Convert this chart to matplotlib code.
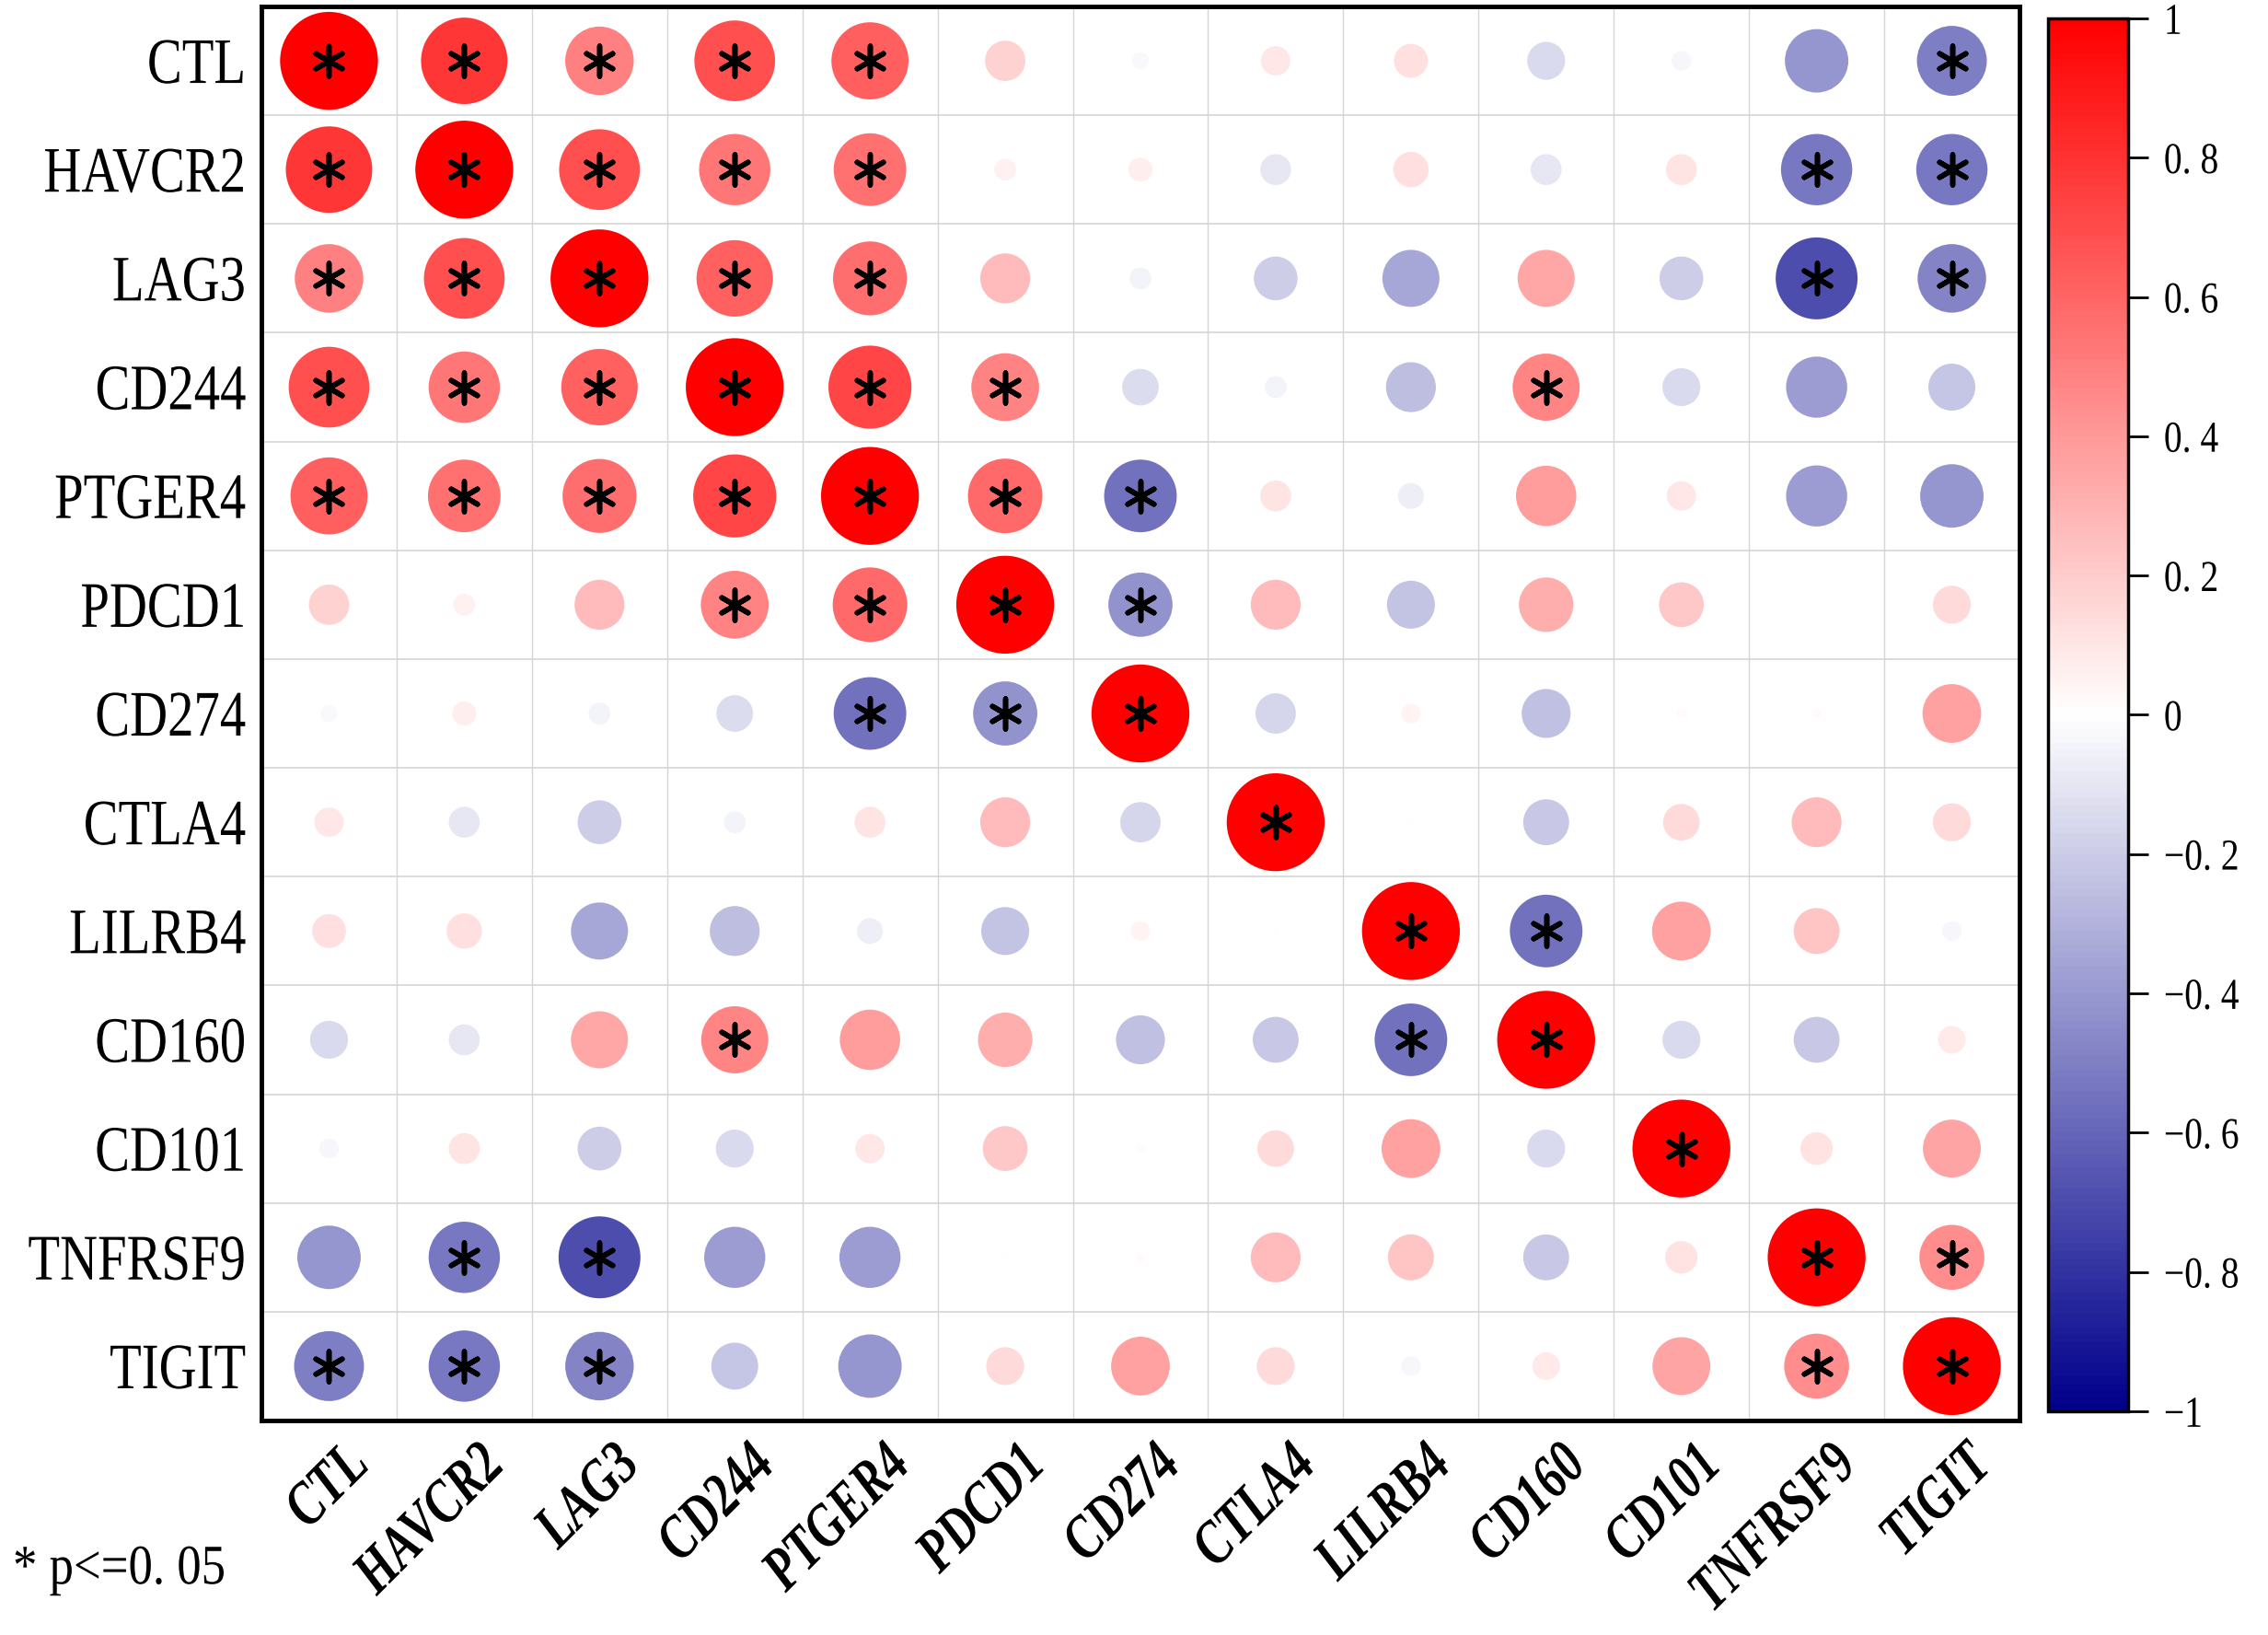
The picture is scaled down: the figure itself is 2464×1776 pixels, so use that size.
import numpy as np
import matplotlib
matplotlib.use("Agg")
import matplotlib.pyplot as plt
from matplotlib.collections import EllipseCollection
from matplotlib.colors import LinearSegmentedColormap, Normalize
from matplotlib.cm import ScalarMappable
from matplotlib.transforms import offset_copy, Affine2D
from matplotlib.patheffects import AbstractPathEffect

genes = ["CTL", "HAVCR2", "LAG3", "CD244", "PTGER4", "PDCD1", "CD274",
         "CTLA4", "LILRB4", "CD160", "CD101", "TNFRSF9", "TIGIT"]

# upper triangle of the correlation matrix, one list per row
# (values for the columns right of the diagonal)
r_ctl = [0.78, 0.49, 0.68, 0.62, 0.17, -0.03, 0.09, 0.12, -0.15, -0.04, -0.42, -0.51]
r_havcr2 = [0.68, 0.53, 0.55, 0.05, 0.06, -0.10, 0.13, -0.10, 0.10, -0.53, -0.53]
r_lag3 = [0.61, 0.57, 0.26, -0.05, -0.20, -0.34, 0.34, -0.20, -0.70, -0.49]
r_cd244 = [0.72, 0.48, -0.14, -0.05, -0.26, 0.47, -0.15, -0.39, -0.23]
r_ptger4 = [0.58, -0.55, 0.10, -0.07, 0.38, 0.09, -0.39, -0.42]
r_pdcd1 = [-0.43, 0.26, -0.24, 0.31, 0.21, 0.005, 0.15]
r_cd274 = [-0.17, 0.04, -0.25, 0.01, 0.01, 0.36]
r_ctla4 = [0.005, -0.22, 0.14, 0.26, 0.15]
r_lilrb4 = [-0.55, 0.36, 0.22, -0.04]
r_cd160 = [-0.15, -0.22, 0.08]
r_cd101 = [0.11, 0.35]
r_tnfrsf9 = [0.44]

upper_rows = [r_ctl, r_havcr2, r_lag3, r_cd244, r_ptger4, r_pdcd1, r_cd274,
              r_ctla4, r_lilrb4, r_cd160, r_cd101, r_tnfrsf9]

# pairs with p <= 0.05 (upper triangle), diagonal is always marked
sig_pairs = [(0, 1), (0, 2), (0, 3), (0, 4), (0, 12),
             (1, 2), (1, 3), (1, 4), (1, 11), (1, 12),
             (2, 3), (2, 4), (2, 11), (2, 12),
             (3, 4), (3, 5), (3, 9),
             (4, 5), (4, 6),
             (5, 6),
             (8, 9),
             (11, 12)]


class Stretch(AbstractPathEffect):
    """draw text glyphs narrower/taller (the original uses a condensed CJK font)"""

    def __init__(self, sx=1.0, sy=1.0, anchor="right"):
        super().__init__()
        self.sx, self.sy, self.anchor = sx, sy, anchor

    def draw_path(self, renderer, gc, tpath, affine, rgbFace=None):
        v = tpath.vertices
        x0 = v[:, 0].max() if self.anchor == "right" else v[:, 0].min()
        y0 = 0.5 * (v[:, 1].min() + v[:, 1].max())
        pre = Affine2D().translate(-x0, -y0).scale(self.sx, self.sy).translate(x0, y0)
        renderer.draw_path(gc, tpath, pre + affine, rgbFace)


n = len(genes)
corr = np.eye(n)
for i, row in enumerate(upper_rows):
    for k, v in enumerate(row):
        j = i + 1 + k
        corr[i, j] = v
        corr[j, i] = v

sig = np.eye(n, dtype=bool)
for i, j in sig_pairs:
    sig[i, j] = True
    sig[j, i] = True

cmap = LinearSegmentedColormap.from_list("corr", ["#00008B", "#FFFFFF", "#FF0000"], N=200)
norm = Normalize(-1, 1)

W, H = 2464, 1776
fig = plt.figure(figsize=(W / 100, H / 100), dpi=100)
ax = fig.add_axes([284 / W, 1 - 1543 / H, 1910 / W, 1536 / H])
ax.set_xlim(-0.5, n - 0.5)
ax.set_ylim(n - 0.5, -0.5)

for k in range(1, n):
    ax.axvline(k - 0.5, color="#D6D6D6", lw=1.0, zorder=1)
    ax.axhline(k - 0.5, color="#D6D6D6", lw=1.2, zorder=1)

jj, ii = np.meshgrid(np.arange(n), np.arange(n))
d = 0.9 * np.sqrt(np.abs(corr)).ravel()
circles = EllipseCollection(d, d, np.zeros_like(d), units="y",
                            offsets=np.column_stack([jj.ravel(), ii.ravel()]),
                            offset_transform=ax.transData,
                            facecolors=cmap(norm(corr.ravel())),
                            edgecolors="none", zorder=2)
ax.add_collection(circles)

ax.scatter(jj[sig], ii[sig], marker=(6, 2, 0), s=560, c="black",
           linewidths=4.0, zorder=3)

ax.set_yticks(range(n))
ax.set_yticklabels(genes, fontsize=43, family="Liberation Serif")
for lab in ax.get_yticklabels():
    lab.set_path_effects([Stretch(0.95, 1.18, "right")])
ax.set_xticks([])
ax.tick_params(axis="y", length=0, pad=12)
for sp in ax.spines.values():
    sp.set_linewidth(3.5)
    sp.set_color("black")

trans = offset_copy(ax.get_xaxis_transform(), fig=fig, x=50, y=-22, units="dots")
for j, g in enumerate(genes):
    t = ax.text(j, 0, g, transform=trans, rotation=45, ha="right", va="top",
                fontsize=37, fontweight="bold", fontstyle="italic",
                family="Liberation Serif")
    t.set_path_effects([Stretch(1.0, 1.3, "right")])

# colour bar
cax = fig.add_axes([2225 / W, 1 - 1533 / H, 87 / W, 1513 / H])
cb = fig.colorbar(ScalarMappable(norm=norm, cmap=cmap), cax=cax)
ticks = np.round(np.linspace(-1, 1, 11), 1)
labels = []
for t in ticks:
    s = f"{abs(t):.1f}"
    if s.endswith(".0"):
        s = s[:-2]
    s = s.replace(".", ". ")
    if t < 0:
        s = "\u2212" + s
    labels.append(s)
cb.set_ticks(ticks)
cb.set_ticklabels(labels)
cax.tick_params(length=16, width=2, pad=12, labelsize=30)
for lab in cax.get_yticklabels():
    lab.set_family("Liberation Serif")
    lab.set_path_effects([Stretch(0.95, 1.15, "left")])
cb.outline.set_linewidth(2.5)

note = fig.text(14 / W, 1 - 1705 / H, "* p<=0. 05", fontsize=40, va="center",
                ha="left", family="Liberation Serif")
note.set_path_effects([Stretch(0.95, 1.1, "left")])

fig.savefig("out.png", dpi=100)
